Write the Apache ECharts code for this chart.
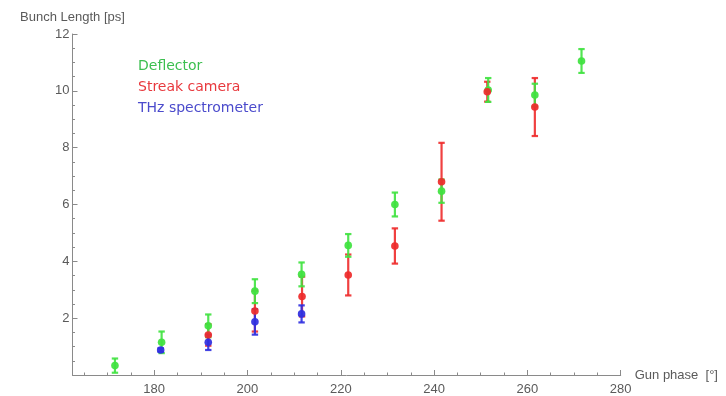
<!DOCTYPE html>
<html>
<head>
<meta charset="utf-8">
<script src="https://cdn.jsdelivr.net/npm/echarts@6/dist/echarts.min.js"></script>
<style>
  html, body { margin: 0; padding: 0; background: #fff; }
  #chart { width: 726px; height: 396px; }
</style>
</head>
<body>
<div id="chart"></div>
<script>
// Bunch length vs. gun phase, three measurement methods: [phase (deg), length (ps), error (ps)]
const deflector = [
  [171.6, 0.33, 0.25],
  [181.6, 1.15, 0.38],
  [191.6, 1.73, 0.40],
  [201.6, 2.95, 0.42],
  [211.6, 3.54, 0.42],
  [221.6, 4.56, 0.40],
  [231.6, 6.00, 0.42],
  [241.6, 6.47, 0.41],
  [251.6, 10.03, 0.42],
  [261.6, 9.85, 0.40],
  [271.6, 11.05, 0.42]
];
const streakCamera = [
  [191.6, 1.41, 0.38],
  [201.6, 2.25, 0.72],
  [211.7, 2.76, 0.70],
  [221.6, 3.52, 0.72],
  [231.6, 4.54, 0.62],
  [241.6, 6.80, 1.37],
  [251.4, 9.97, 0.35],
  [261.6, 9.43, 1.02]
];
const thzSpectrometer = [
  [181.4, 0.88, 0.06],
  [191.6, 1.15, 0.27],
  [201.6, 1.87, 0.45],
  [211.6, 2.15, 0.30]
];
const seriesNames = ['Deflector', 'Streak camera', 'THz spectrometer'];
const xMajorTicks = [180, 200, 220, 240, 260, 280];
const xMinorTicks = [165, 170, 175, 185, 190, 195, 205, 210, 215, 225, 230, 235, 245, 250, 255, 265, 270, 275];

const markColors = ['#3fe23f', '#ee2b2b', '#2f2fe0'];
const textColors = ['#3cbf50', '#e8383d', '#4b4bcc'];

// Vertical error bar with caps, drawn from [x, y, err]
function errorBars(name, data, color, z) {
  return {
    type: 'custom',
    name: name,
    data: data,
    encode: { x: 0, y: 1 },
    renderItem: function (params, api) {
      const x = api.value(0), y = api.value(1), e = api.value(2);
      const hi = api.coord([x, y + e]);
      const lo = api.coord([x, y - e]);
      const cap = 3.2;
      const lineStyle = { stroke: color, lineWidth: 2.2, opacity: 0.9 };
      return {
        type: 'group',
        children: [
          { type: 'line', shape: { x1: hi[0], y1: hi[1], x2: lo[0], y2: lo[1] }, style: lineStyle },
          { type: 'line', shape: { x1: hi[0] - cap, y1: hi[1], x2: hi[0] + cap, y2: hi[1] }, style: lineStyle },
          { type: 'line', shape: { x1: lo[0] - cap, y1: lo[1], x2: lo[0] + cap, y2: lo[1] }, style: lineStyle }
        ]
      };
    },
    z: z
  };
}

// Central measured value as a filled dot
function dots(name, data, color, z) {
  return {
    type: 'scatter',
    name: name,
    data: data.map(function (d) { return [d[0], d[1]]; }),
    symbol: 'circle',
    symbolSize: 7.6,
    itemStyle: { color: color, opacity: 0.93 },
    z: z
  };
}

const axisGray = '#8a8a8a';
const labelGray = '#5a5a5a';
const axisFont = 'Liberation Sans';

const chart = echarts.init(document.getElementById('chart'));
chart.setOption({
  animation: false,
  backgroundColor: '#ffffff',
  grid: { left: 72.5, right: 105.3, top: 34, bottom: 20 },
  xAxis: [
    {
      type: 'value',
      min: 162.5,
      max: 280,
      name: 'Gun phase  [°]',
      nameLocation: 'end',
      nameGap: 14,
      nameTextStyle: { color: labelGray, fontSize: 13, fontFamily: axisFont, verticalAlign: 'middle' },
      axisLine: { show: true, onZero: false, lineStyle: { color: axisGray, width: 1 } },
      axisTick: { show: true, inside: true, length: 5, customValues: xMajorTicks, lineStyle: { color: axisGray } },
      axisLabel: { show: true, customValues: xMajorTicks, color: labelGray, fontSize: 13, fontFamily: axisFont, margin: 8 },
      splitLine: { show: false }
    },
    {
      type: 'value',
      min: 162.5,
      max: 280,
      position: 'bottom',
      axisLine: { show: false, onZero: false },
      axisTick: { show: true, inside: true, length: 2.5, customValues: xMinorTicks, lineStyle: { color: axisGray } },
      axisLabel: { show: false },
      splitLine: { show: false }
    }
  ],
  yAxis: {
    type: 'value',
    min: 0,
    max: 12,
    interval: 2,
    name: 'Bunch Length [ps]',
    nameLocation: 'end',
    nameGap: 10,
    nameTextStyle: { color: labelGray, fontSize: 13, fontFamily: axisFont, align: 'center' },
    axisLine: { show: true, onZero: false, lineStyle: { color: axisGray, width: 1 } },
    axisTick: { show: true, inside: true, length: 5, lineStyle: { color: axisGray } },
    minorTick: { show: true, splitNumber: 4, length: 2.5, lineStyle: { color: axisGray } },
    axisLabel: {
      color: labelGray, fontSize: 13, fontFamily: axisFont, margin: 3,
      formatter: function (v) { return v === 0 ? '' : String(v); }
    },
    splitLine: { show: false }
  },
  graphic: seriesNames.map(function (n, i) {
    return {
      type: 'text',
      left: 138,
      top: 59 + i * 21,
      style: { text: n, fill: textColors[i], font: '14px "DejaVu Sans"' }
    };
  }),
  series: [
    errorBars(seriesNames[1], streakCamera, markColors[1], 4),
    errorBars(seriesNames[0], deflector, markColors[0], 5),
    errorBars(seriesNames[2], thzSpectrometer, markColors[2], 6),
    dots(seriesNames[0], deflector, markColors[0], 7),
    dots(seriesNames[1], streakCamera, markColors[1], 8),
    dots(seriesNames[2], thzSpectrometer, markColors[2], 9)
  ]
});
</script>
</body>
</html>
